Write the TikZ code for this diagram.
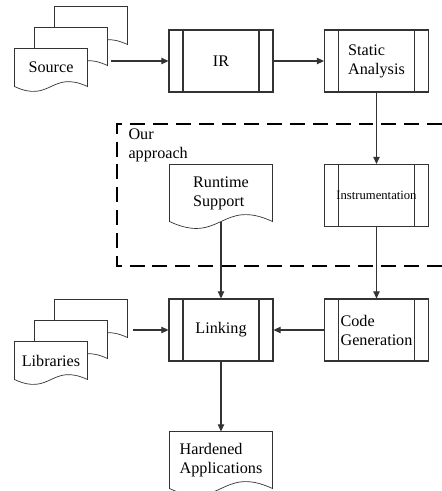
\documentclass[tikz,border=0pt]{standalone}
\usepackage{fontspec}
\setmainfont{Liberation Serif}
\usetikzlibrary{arrows.meta,calc,backgrounds}
\newcommand{\docshape}[2]{%
  \begin{scope}[on background layer]
  \filldraw[docline] (#1.north west) -- (#1.north east) -- (#1.south east)
    .. controls ($(#1.south)+(0,-#2)$) and ($(#1.south)+(0,#2)$) .. (#1.south west) -- cycle;
  \end{scope}}

\begin{document}
\begin{tikzpicture}[x=0.02cm,y=-0.02cm,line width=0.6pt,font=\fontsize{9.2}{10.8}\selectfont,
  proc/.style={rectangle,draw=black!80,fill=white,minimum width=2.08cm,minimum height=1.24cm,align=left,
    path picture={
      \draw[black!80] ([xshift=0.28cm]path picture bounding box.north west) -- ([xshift=0.28cm]path picture bounding box.south west);
      \draw[black!80] ([xshift=-0.28cm]path picture bounding box.north east) -- ([xshift=-0.28cm]path picture bounding box.south east);}},
  doc/.style={rectangle,minimum width=1.44cm,minimum height=0.74cm,align=left},
  bigdoc/.style={doc,minimum width=2.04cm,minimum height=1.12cm},
  docline/.style={draw=black!80,fill=white},
  flow/.style={draw=black!80,-{Triangle[length=4pt,width=3.6pt]}}]
\useasboundingbox (0,0) rectangle (442,491);
\node at (91,25.5) [doc] (SourceBack) {};
\node at (71,46.5) [doc] (SourceMid) {};
\node at (51,67.5) [doc] (Source) {Source};
\docshape{SourceBack}{17}
\docshape{SourceMid}{17}
\docshape{Source}{17}
\node at (91,318.5) [doc] (LibBack) {};
\node at (71,339.5) [doc] (LibMid) {};
\node at (51,360.5) [doc] (Libraries) {Libraries};
\docshape{LibBack}{17}
\docshape{LibMid}{17}
\docshape{Libraries}{17}
\node at (221,193) [bigdoc] (Runtime) {Runtime\\Support};
\docshape{Runtime}{24}
\node at (221,460) [bigdoc] (Hardened) {Hardened\\Applications};
\docshape{Hardened}{24}
\node at (221,61) [proc] (IR) {IR};
\node at (376.5,61) [proc] (Static) {Static\\Analysis};
\node at (376.5,195.5) [proc,font=\fontsize{7.2}{8.6}\selectfont] (Instr) {Instrumentation};
\node at (221,330) [proc] (Linking) {Linking};
\node at (376.5,330) [proc] (CodeGen) {Code\\Generation};
\node at (128,145.5) [anchor=west,align=left,inner sep=0pt] (Approach) {Our\\approach};
\draw[line width=1.6pt,dash pattern=on 8.5pt off 4.5pt] (442,124) -- (117,124) -- (117,266) -- (442,266);
\draw[flow,shorten <=2pt] (SourceMid.east |- IR.west) -- (IR.west);
\draw[flow] (IR) -- (Static);
\draw[flow] (Static) -- (Instr);
\draw[flow] (Instr) -- (CodeGen);
\draw[flow] (CodeGen) -- (Linking);
\draw[flow] (Runtime.south) -- (Linking.north);
\draw[flow,shorten <=3.4pt] (LibBack.east |- Linking.west) -- (Linking.west);
\draw[flow] (Linking) -- (Hardened.north);
\end{tikzpicture}
\end{document}
